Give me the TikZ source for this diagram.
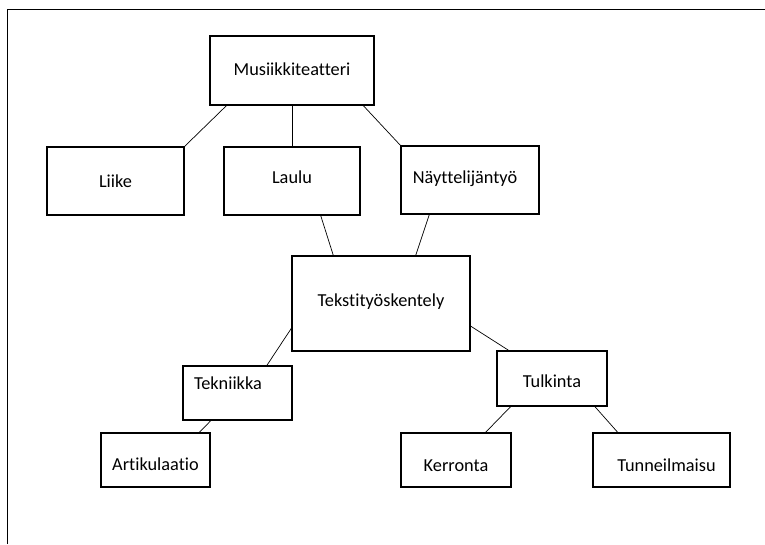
\documentclass[tikz,border=0pt]{standalone}
\usepackage{fontspec}
\setmainfont{Carlito}[Ligatures=NoCommon]
\usetikzlibrary{positioning}

\begin{document}
\begin{tikzpicture}[x=1pt, y=-1pt, line width=0.7pt, every node/.style={draw, rectangle, line width=1.5pt, inner sep=0pt, outer sep=0pt, font=\fontsize{18.3}{22}\selectfont, text height=12pt, text depth=3pt}]
					\useasboundingbox (0,0) rectangle (765,544);
					\draw[line width=0.8pt] (7,544) -- (7,9) -- (765,9);
					
					\node [minimum width=164pt, minimum height=69pt] (musiikki) at (292,70.5) {Musiikkiteatteri};
					\node [below left=42pt and 26pt of musiikki, minimum width=137pt, minimum height=68pt, text height=15pt, text depth=2pt] (liike) {Liike};
					\node [below=42pt of musiikki, minimum width=136pt, minimum height=68pt, text depth=8pt] (laulu) {Laulu};
					\node [below right=41pt and 27pt of musiikki, minimum width=138pt, minimum height=68pt, text depth=6pt] (naytt) {Näyttelijäntyö\hspace*{10pt}};
					\node [below=41pt of laulu, xshift=89pt, minimum width=178pt, minimum height=95pt, text depth=6pt] (teksti) {Tekstityöskentely};
					\node [below left=15pt and 0pt of teksti, minimum width=109pt, minimum height=54pt, text width=87pt, align=left, text depth=20pt] (tekniikka) {Tekniikka};
					\node [below right=0pt and 27pt of teksti, minimum width=110pt, minimum height=55pt, text height=22pt, text depth=4pt] (tulkinta) {Tulkinta};
					\node [below=13pt of tekniikka, xshift=-82pt, minimum width=109pt, minimum height=54pt, text height=24pt, text depth=4pt] (artik) {Artikulaatio};
					\node [below=27pt of tulkinta, xshift=-96pt, minimum width=110pt, minimum height=54pt, text height=24pt, text depth=2pt] (kerronta) {Kerronta};
					\node [below=27pt of tulkinta, xshift=109.5pt, minimum width=137pt, minimum height=54pt, text height=24pt, text depth=2pt] (tunne) {\hspace*{10pt}Tunneilmaisu};
					
					\draw (musiikki.-152) -- (liike.north east);
					\draw (musiikki.south) -- (laulu.north);
					\draw (musiikki.-26) -- (naytt.north west);
					
					\draw (laulu.-50) -- (teksti.135);
					\draw (naytt.-140) -- (teksti.54);
					
					\draw (teksti.-165) -- (tekniikka.43);
					\draw (teksti.-14) -- (tulkinta.147);
					
					\draw (tekniikka.-134) -- (artik.32);
					\draw (tulkinta.-146) -- (kerronta.43);
					\draw (tulkinta.-33) -- (tunne.148);
				\end{tikzpicture}
\end{document}
